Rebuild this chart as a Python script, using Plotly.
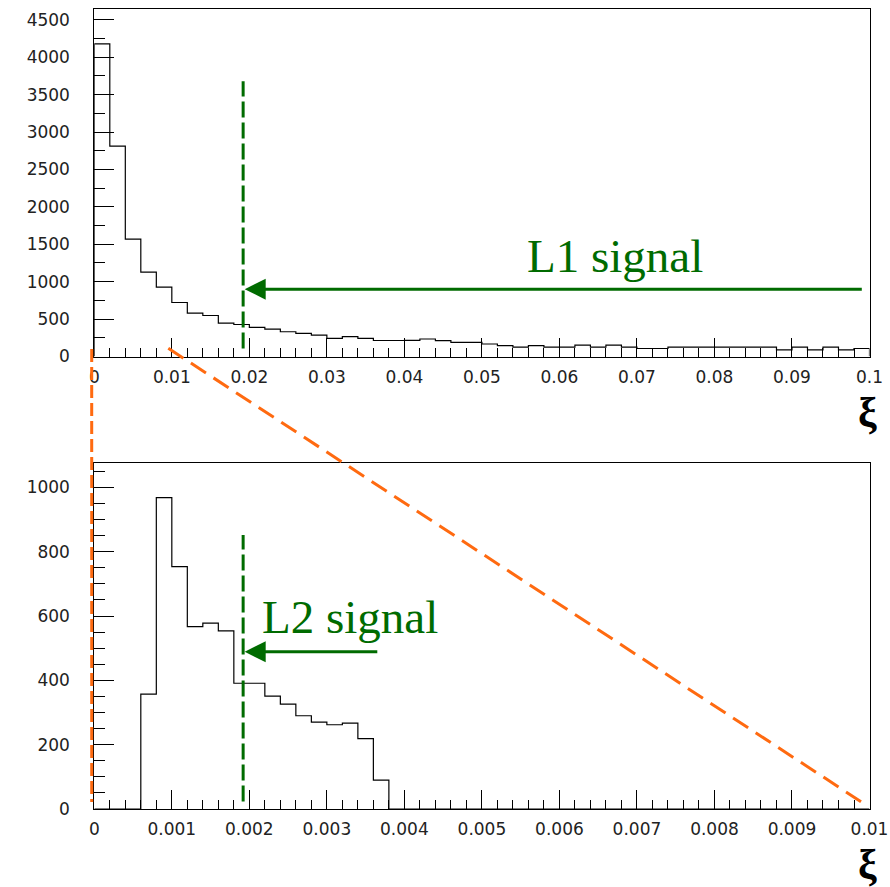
import plotly.graph_objects as go

# ---------------- data ----------------
top_bin_width = 0.002
top_counts = [4180, 2812, 1568, 1127, 927, 722, 579, 548, 446, 428,
              388, 365, 331, 310, 287, 243, 265, 243, 214, 214,
              216, 234, 211, 189, 189, 167, 146, 125, 146, 125,
              125, 151, 125, 151, 125, 107, 107, 125, 125, 125,
              125, 125, 125, 125, 89, 125, 89, 125, 89, 107]

bot_bin_width = 0.0002
bot_counts = [0, 0, 0, 357, 968, 754, 567, 578, 554, 391,
              391, 351, 326, 290, 270, 262, 267, 219, 90, 0,
              0, 0, 0, 0, 0, 0, 0, 0, 0, 0,
              0, 0, 0, 0, 0, 0, 0, 0, 0, 0,
              0, 0, 0, 0, 0, 0, 0, 0, 0, 0]

top_cut = 0.0192          # L1 threshold (dashed line)
top_cut_span = [107, 3680]
top_arrow = dict(tip=0.0194, tail=0.0992, level=900)
top_label = dict(text="L1 signal", x=0.0672, y=1345)

bot_cut = 0.00192
bot_cut_span = [23, 852]
bot_arrow = dict(tip=0.00194, tail=0.00367, level=489)
bot_label = dict(text="L2 signal", x=0.00330, y=598)

top_yticks = [0, 500, 1000, 1500, 2000, 2500, 3000, 3500, 4000, 4500]
bot_yticks = [0, 200, 400, 600, 800, 1000]

W, H = 890, 887
GREEN = "#006b00"
ORANGE = "#ff6a10"


def step_xy(counts, width):
    edges = [i * width for i in range(len(counts) + 1)]
    xs = [edges[0]] + edges + [edges[-1]]
    ys = [0] + list(counts) + [counts[-1], 0]
    return xs, ys


fig = go.Figure()
tx, ty = step_xy(top_counts, top_bin_width)
bx, by = step_xy(bot_counts, bot_bin_width)
fig.add_trace(go.Scatter(x=tx, y=ty, mode="lines", line=dict(color="black", width=1.2, shape="hv"),
                         xaxis="x", yaxis="y", showlegend=False, hoverinfo="skip"))
fig.add_trace(go.Scatter(x=bx, y=by, mode="lines", line=dict(color="black", width=1.2, shape="hv"),
                         xaxis="x2", yaxis="y2", showlegend=False, hoverinfo="skip"))

tickfont = dict(family="DejaVu Sans", size=17, color="#222")
xdom = [94.3 / W, 869.5 / W]


def xaxis(rng, dtick, mdtick, anchor):
    return dict(range=rng, domain=xdom, anchor=anchor, tick0=0, dtick=dtick, automargin=False,
                ticks="inside", ticklen=19, tickwidth=1, tickcolor="black",
                minor=dict(ticks="inside", ticklen=9, dtick=mdtick, tick0=0, tickcolor="black", tickwidth=1),
                showline=True, linecolor="black", linewidth=1, mirror=True,
                showgrid=False, zeroline=False, tickfont=tickfont, ticklabelstandoff=5)


def yaxis(rng, dom, tickvals, mdtick, anchor):
    return dict(range=rng, domain=dom, anchor=anchor, tickmode="array", tickvals=tickvals,
                ticktext=[str(v) for v in tickvals], automargin=False,
                ticks="inside", ticklen=20, tickwidth=1, tickcolor="black",
                minor=dict(ticks="inside", ticklen=11, dtick=mdtick, tick0=0, tickcolor="black", tickwidth=1),
                showline=True, linecolor="black", linewidth=1, mirror=True,
                showgrid=False, zeroline=False, tickfont=tickfont, ticklabelstandoff=20)


fig.update_layout(
    template="none",
    width=W, height=H, autosize=False,
    margin=dict(l=0, r=0, t=0, b=0, pad=0),
    paper_bgcolor="white", plot_bgcolor="white",
    xaxis=xaxis([0, 0.1], 0.01, 0.002, "y"),
    yaxis=yaxis([0, 4645], [1 - 356.5 / H, 1 - 9 / H], top_yticks, 250, "x"),
    xaxis2=xaxis([0, 0.01], 0.001, 0.0002, "y2"),
    yaxis2=yaxis([0, 1075], [1 - 809 / H, 1 - 463.3 / H], bot_yticks, 50, "x2"),
)

# dashed threshold lines
fig.add_shape(type="line", xref="x", yref="y", x0=top_cut, x1=top_cut, y0=top_cut_span[0], y1=top_cut_span[1],
              line=dict(color=GREEN, width=3, dash="16px,5px"))
fig.add_shape(type="line", xref="x2", yref="y2", x0=bot_cut, x1=bot_cut, y0=bot_cut_span[0], y1=bot_cut_span[1],
              line=dict(color=GREEN, width=3, dash="16px,5px"))

# orange zoom lines (paper coordinates, from pixel positions)
orange_lines = [
    ([(91.7, 349), (91.7, 802)], "13px,5px"),
    ([(168.3, 348.3), (861, 801.7)], "18px,9px"),
]
for (p0, p1), dash in orange_lines:
    fig.add_shape(type="line", xref="paper", yref="paper",
                  x0=p0[0] / W, y0=1 - p0[1] / H, x1=p1[0] / W, y1=1 - p1[1] / H,
                  line=dict(color=ORANGE, width=3, dash=dash))

# arrows
for arr, xr, yr in ((top_arrow, "x", "y"), (bot_arrow, "x2", "y2")):
    fig.add_annotation(x=arr["tip"], y=arr["level"], ax=arr["tail"], ay=arr["level"],
                       xref=xr, yref=yr, axref=xr, ayref=yr, text="", showarrow=True,
                       arrowhead=2, arrowsize=1.4, arrowwidth=3, arrowcolor=GREEN, standoff=0)

# labels
for lab, xr, yr in ((top_label, "x", "y"), (bot_label, "x2", "y2")):
    fig.add_annotation(x=lab["x"], y=lab["y"], xref=xr, yref=yr, text=lab["text"], showarrow=False,
                       font=dict(family="Liberation Serif", size=47, color=GREEN),
                       xanchor="center", yanchor="middle")

# xi axis titles
for yc in (413, 865):
    fig.add_annotation(x=867 / W, y=1 - yc / H, xref="paper", yref="paper", text="<b>ξ</b>",
                       showarrow=False, font=dict(family="Liberation Serif", size=42, color="black"),
                       xanchor="center", yanchor="middle", borderpad=0)

fig.write_html("out.html")
